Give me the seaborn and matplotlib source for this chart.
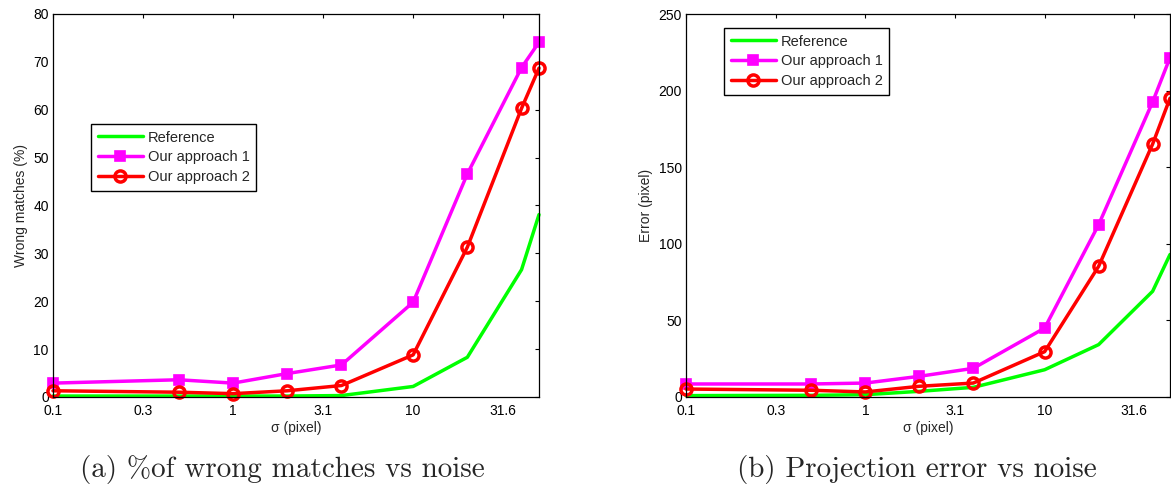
import matplotlib
matplotlib.use("Agg")
import matplotlib.pyplot as plt
import seaborn as sns
import numpy as np
from matplotlib.ticker import NullLocator

# Noise levels (sigma, pixel)
sigma = [0.1, 0.5, 1, 2, 4, 10, 20, 40, 50]

# (a) wrong matches, %
wrong_reference = [0.2, 0.2, 0.2, 0.2, 0.3, 2.2, 8.3, 26.6, 38.1]
wrong_approach1 = [2.9, 3.6, 2.9, 4.9, 6.7, 19.8, 46.6, 68.8, 74.1]
wrong_approach2 = [1.3, 1.0, 0.7, 1.3, 2.4, 8.8, 31.3, 60.3, 68.7]

# (b) projection error, pixel
err_reference = [0.9, 1.1, 1.5, 3.7, 6.3, 17.8, 34.2, 69.0, 93.0]
err_approach1 = [8.5, 8.5, 9.1, 13.5, 18.7, 45.0, 112.5, 192.6, 221.5]
err_approach2 = [5.2, 4.4, 3.3, 7.0, 9.1, 29.6, 85.3, 165.1, 195.0]

series_names = ["Reference", "Our approach 1", "Our approach 2"]
xtick_values = [10 ** -1, 10 ** -0.5, 1, 10 ** 0.5, 10, 10 ** 1.5]
xtick_labels = ["0.1", "0.3", "1", "3.1", "10", "31.6"]
captions = ["(a) %of wrong matches vs noise", "(b) Projection error vs noise"]

sns.set_style("white")
plt.rcParams["font.family"] = ["Liberation Sans", "DejaVu Sans"]
plt.rcParams["font.size"] = 10

W, H = 1171, 495
fig = plt.figure(figsize=(W / 100, H / 100), dpi=100)


def px_axes(x0, y0, x1, y1):
    return fig.add_axes([x0 / W, 1 - y1 / H, (x1 - x0) / W, (y1 - y0) / H])


ax_a = px_axes(53, 14, 539, 397)
ax_b = px_axes(686, 14, 1170, 397)

styles = [
    dict(color="#00ff00", marker=None),
    dict(color="#ff00ff", marker="s", markersize=7.8, markerfacecolor="#ff00ff",
         markeredgecolor="#ff00ff", markeredgewidth=1.2),
    dict(color="#ff0000", marker="o", markersize=8, markerfacecolor="none",
         markeredgecolor="#ff0000", markeredgewidth=2.5),
]


def draw(ax, values, ymax, ystep, ylabel, legend_xy):
    for name, vals, st in zip(series_names, values, styles):
        kw = dict(st)
        if kw["marker"] is None:
            kw.pop("marker")
        sns.lineplot(x=sigma, y=vals, ax=ax, label=name, linewidth=2.5,
                     clip_on=False, **kw)
    ax.set_xscale("log")
    ax.set_xlim(0.1, 50)
    ax.set_ylim(0, ymax)
    ax.set_xticks(xtick_values)
    ax.set_xticklabels(xtick_labels)
    ax.xaxis.set_minor_locator(NullLocator())
    ax.set_yticks(np.arange(0, ymax + 1, ystep))
    ax.tick_params(direction="in", length=3.2, width=0.8, top=True, right=True,
                   labelsize=10, colors="black", pad=3)
    ax.tick_params(axis="x", pad=5)
    for s in ax.spines.values():
        s.set_visible(True)
        s.set_color("black")
        s.set_linewidth(0.9)
    ax.set_xlabel("σ (pixel)", fontsize=10, labelpad=2)
    ax.set_ylabel(ylabel, fontsize=10, labelpad=4)
    leg = ax.legend(loc="upper left",
                    bbox_to_anchor=(legend_xy[0] / W, 1 - legend_xy[1] / H),
                    bbox_transform=fig.transFigure, borderaxespad=0,
                    fontsize=10.5, handlelength=3.1, handletextpad=0.35,
                    labelspacing=0.4, borderpad=0.45, fancybox=False,
                    framealpha=1, edgecolor="black", numpoints=1)
    leg.get_frame().set_linewidth(1.0)


draw(ax_a, [wrong_reference, wrong_approach1, wrong_approach2], 80, 10,
     "Wrong matches (%)", (91, 124))
draw(ax_b, [err_reference, err_approach1, err_approach2], 250, 50,
     "Error (pixel)", (724, 28))

fig.text(282 / W, 1 - 470 / H, captions[0], ha="center", va="center",
         fontsize=21, family="cmr10")
fig.text(917 / W, 1 - 470 / H, captions[1], ha="center", va="center",
         fontsize=21, family="cmr10")

fig.savefig("out.png", dpi=100)
